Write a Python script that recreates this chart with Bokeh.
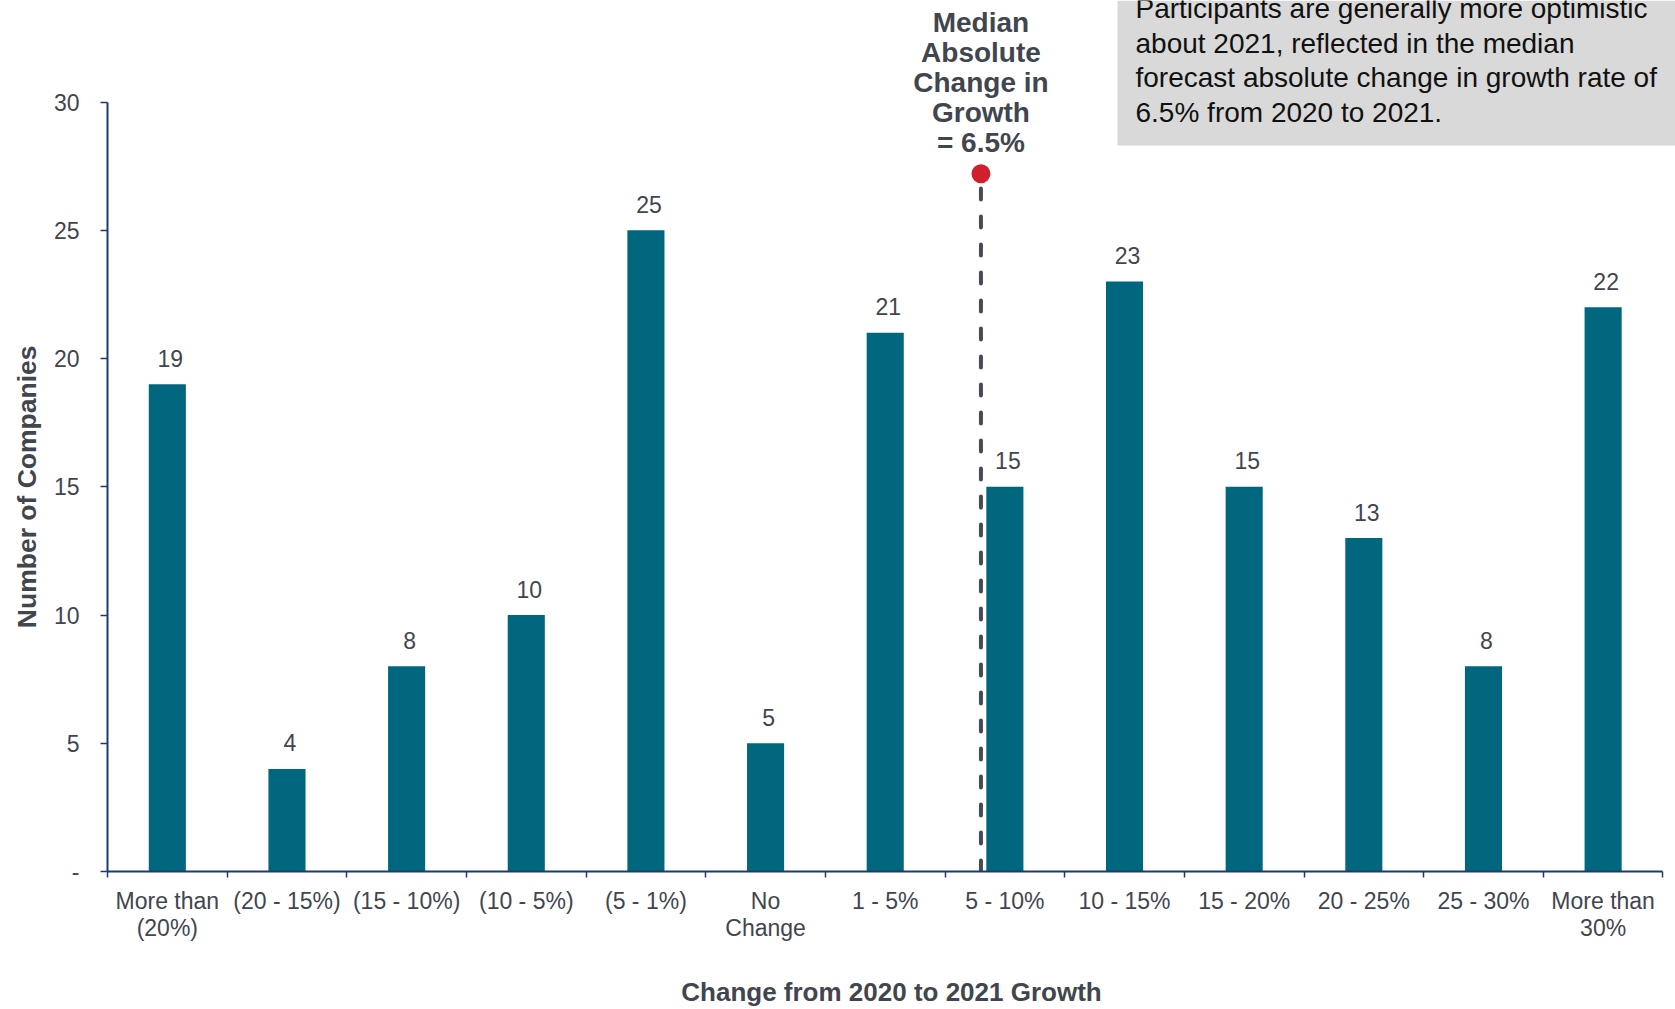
from bokeh.plotting import figure
from bokeh.models import Range1d, FixedTicker, LinearAxis, BoxAnnotation, Title
from bokeh.core.properties import value
from bokeh.embed import file_html
from bokeh.resources import INLINE

# ---- data -------------------------------------------------------------
categories = [
    "More than\n(20%)", "(20 - 15%)", "(15 - 10%)", "(10 - 5%)", "(5 - 1%)",
    "No\nChange", "1 - 5%", "5 - 10%", "10 - 15%", "15 - 20%", "20 - 25%",
    "25 - 30%", "More than\n30%",
]
companies = [19, 4, 8, 10, 25, 5, 21, 15, 23, 15, 13, 8, 22]

y_ticks = [0, 5, 10, 15, 20, 25, 30]
y_tick_labels = ["-", "5", "10", "15", "20", "25", "30"]

median_change = 6.5
median_bin = "5 - 10%"
median_bin_bounds = (5, 10)
median_label_lines = ["Median", "Absolute", "Change in", "Growth", "= 6.5%"]

note_lines = [
    "Participants are generally more optimistic",
    "about 2021, reflected in the median",
    "forecast absolute change in growth rate of",
    "6.5% from 2020 to 2021.",
]

x_title = "Change from 2020 to 2021 Growth"
y_title = "Number of Companies"

# ---- style / layout ---------------------------------------------------
W, H = 1675, 1009
FRAME_LEFT = 107
FRAME_BOTTOM = 138
CAT_PX = 119.65          # pixels per category slot
UNIT_PX = 25.65          # pixels per company on the y scale
FONT = "Liberation Sans"
TXT = "#41464E"
NAVY = "#1B3D6B"
TEAL = "#00677F"
RED = "#D0202E"
BOX_GREY = "#D9D9D9"
Y_TITLE_SIZE = 26.5
Y_TITLE_EM = 10.67       # advance width of the y title in em (bold sans)

n = len(categories)
xs = list(range(n))
x_start = -0.5
x_end = x_start + (W - FRAME_LEFT) / CAT_PX
frame_h = H - FRAME_BOTTOM
y_end = frame_h / UNIT_PX


def y_from_top(px):
    """Data y for a pixel distance measured from the top of the canvas."""
    return y_end - px / UNIT_PX


def x_from_left(px):
    return x_start + (px - FRAME_LEFT) / CAT_PX


p = figure(
    width=W, height=H,
    x_range=Range1d(x_start, x_end), y_range=Range1d(0, y_end),
    x_axis_type=None, y_axis_type=None,
    output_backend="svg", toolbar_location=None,
    min_border=0, min_border_left=FRAME_LEFT, min_border_bottom=FRAME_BOTTOM,
    outline_line_color=None, background_fill_color="white",
    border_fill_color="white",
)

# ---- axes -------------------------------------------------------------
xaxis = LinearAxis(
    ticker=FixedTicker(ticks=xs, minor_ticks=[i - 0.5 for i in range(n + 1)]),
    bounds=(-0.5, n - 0.5),
    major_label_overrides={i: c for i, c in zip(xs, categories)},
    major_tick_in=0, major_tick_out=0, major_tick_line_color=None,
    minor_tick_in=0, minor_tick_out=6,
    minor_tick_line_color=NAVY, minor_tick_line_width=1.5,
    axis_line_color=NAVY, axis_line_width=2,
    major_label_text_font=FONT, major_label_text_font_size="23px",
    major_label_text_color=TXT, major_label_standoff=10,
    major_label_text_line_height=1.05,
    axis_label=x_title, axis_label_text_font=FONT,
    axis_label_text_font_size="26px", axis_label_text_font_style="bold",
    axis_label_text_color=TXT, axis_label_standoff=33,
    axis_label_text_line_height=1.0,
)
p.add_layout(xaxis, "below")

yaxis = LinearAxis(
    ticker=FixedTicker(ticks=y_ticks, minor_ticks=[]),
    bounds=(0, 30),
    major_label_overrides={t: s for t, s in zip(y_ticks, y_tick_labels)},
    major_tick_in=0, major_tick_out=7,
    major_tick_line_color=NAVY, major_tick_line_width=1.5,
    minor_tick_line_color=None,
    axis_line_color=NAVY, axis_line_width=2,
    major_label_text_font=FONT, major_label_text_font_size="23px",
    major_label_text_color=TXT, major_label_standoff=21,
)
p.add_layout(yaxis, "left")

# y title centred on the 0-30 span of the value axis, not the whole frame
span_mid_from_bottom = 15 * UNIT_PX
p.add_layout(Title(
    text=y_title, align="left",
    offset=span_mid_from_bottom - Y_TITLE_EM * Y_TITLE_SIZE / 2,
    standoff=18, text_font=FONT, text_font_size=f"{Y_TITLE_SIZE}px",
    text_font_style="bold", text_color=TXT,
), "left")

# ---- bars and value labels -------------------------------------------
p.vbar(x=xs, top=companies, width=0.31, fill_color=TEAL, line_color=None)
p.text(
    x=xs, y=companies, text=[str(v) for v in companies],
    text_align="center", text_baseline="alphabetic",
    x_offset=3, y_offset=-26,
    text_font=value(FONT), text_font_size="23px", text_color=TXT,
)

# ---- median marker ----------------------------------------------------
bin_idx = categories.index(median_bin)
lo, hi = median_bin_bounds
median_x = bin_idx - 0.5 + (median_change - lo) / (hi - lo)
PIN_Y = 27.2

p.segment(
    x0=[median_x], y0=[0], x1=[median_x], y1=[PIN_Y],
    line_color="#474B55", line_width=4, line_dash="11 17", line_cap="round",
)
p.scatter(x=[median_x], y=[PIN_Y], size=19, marker="circle",
          fill_color=RED, line_color=None)

p.text(
    x=[median_x] * len(median_label_lines),
    y=[y_from_top(22 + 30 * i) for i in range(len(median_label_lines))],
    text=median_label_lines,
    text_align="center", text_baseline="alphabetic",
    text_font=value(FONT), text_font_size="28px", text_font_style="bold",
    text_color=TXT,
)

# ---- note box ---------------------------------------------------------
p.add_layout(BoxAnnotation(
    left=x_from_left(1117), bottom=y_from_top(145),
    fill_color=BOX_GREY, fill_alpha=1, line_color=None, level="underlay",
))
p.text(
    x=[x_from_left(1135)] * len(note_lines),
    y=[y_from_top(8 + 34.6 * i) for i in range(len(note_lines))],
    text=note_lines,
    text_align="left", text_baseline="alphabetic",
    text_font=value(FONT), text_font_size="28px", text_color="#111111",
)

open("out.html", "w").write(file_html(p, INLINE))
